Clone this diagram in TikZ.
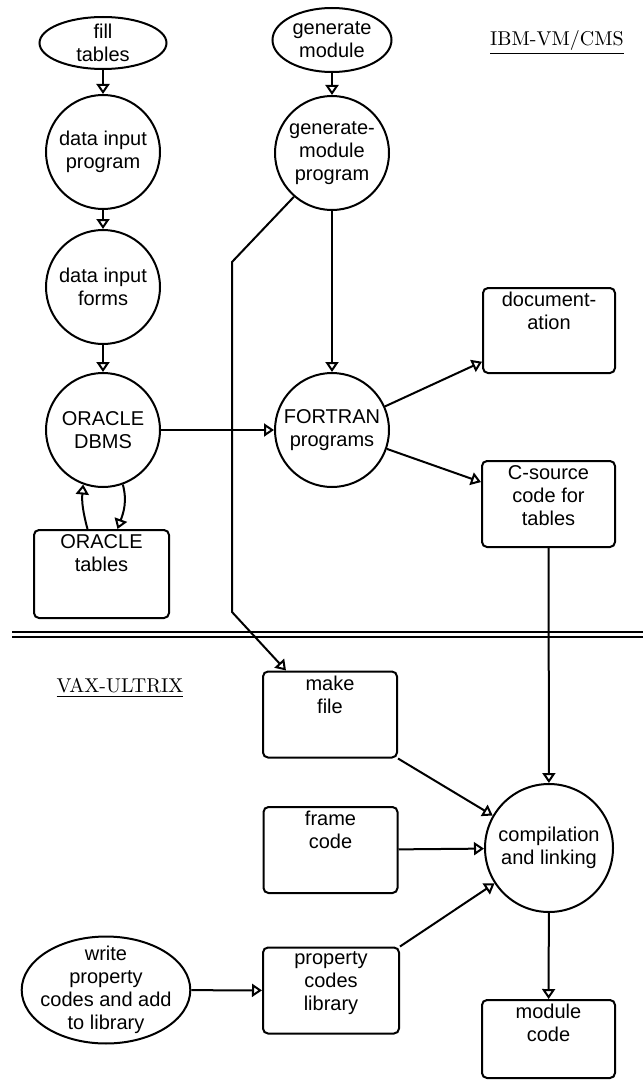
\documentclass[tikz,border=0pt]{standalone}
\usepackage{fontspec}
\newfontfamily\flowfont{Liberation Sans}
\usetikzlibrary{arrows.meta,shapes.geometric}

\tikzset{
  flowtext/.style={align=center, font=\flowfont\fontsize{10}{11.5}\selectfont},
  proc/.style={flowtext, draw, circle, line width=1pt, minimum size=57pt, inner sep=1pt},
  term/.style={flowtext, draw, ellipse, line width=1pt, inner sep=-1pt},
  store/.style={draw, rectangle, rounded corners=2.5pt, line width=1pt,
    minimum width=67pt, minimum height=43pt},
  boxtext/.style={flowtext, anchor=north, inner sep=2.5pt},
  flow/.style={line width=1pt, -{Triangle[open,length=5pt,width=6.5pt]}},
  system/.style={font=\normalsize}
}

\begin{document}
\begin{tikzpicture}[x=0.5pt,y=0.5pt]
  \useasboundingbox (0,0) rectangle (643,-1081);

  % IBM side
  \node[term, minimum width=63.5pt, minimum height=26pt] (filltab) at (103,-43) {fill\\tables};
  \node[proc] (dataprog) at (103,-152) {data input\\program};
  \node[proc] (dataform) at (103,-287) {data input\\forms};
  \node[proc] (dbms) at (103,-430) {ORACLE\\DBMS};
  \node[store, minimum width=67.5pt, minimum height=44pt,
    label={[boxtext]north:ORACLE\\tables}] (otab) at (101.5,-574) {};

  \node[term, minimum width=59.5pt, minimum height=32pt] (genmod) at (332,-40) {generate\\module};
  \node[proc] (genprog) at (332,-153) {generate-\\module\\program};
  \node[proc] (fortran) at (332,-430) {FORTRAN\\programs};

  \node[store, minimum width=66pt, minimum height=42.5pt,
    label={[boxtext]north:document-\\ation}] (docu) at (549,-330.5) {};
  \node[store, minimum width=66.5pt,
    label={[boxtext]north:C-source\\code for\\tables}] (csrc) at (548.5,-504) {};

  \node[system] (ibm) at (557,-43) {\underline{IBM-VM/CMS}};

  % border between the two machines
  \draw[line width=1pt] (12,-632) -- (643,-632);
  \draw[line width=1pt] (12,-637) -- (643,-637);

  % VAX side
  \node[system] (vax) at (120,-688) {\underline{VAX-ULTRIX}};

  \node[store, label={[boxtext]north:make\\file}] (mkfile) at (330,-714.5) {};
  \node[store, label={[boxtext]north:frame\\code}] (frame) at (330.5,-850) {};
  \node[store, minimum width=68pt,
    label={[boxtext]north:property\\codes\\library}] (prop) at (331,-990.5) {};
  \node[term, minimum width=79pt, minimum height=52.5pt, inner sep=-3pt] (write) at (106,-990)
    {write\\property\\codes and add\\to library};

  \node[proc, minimum size=64pt] (compile) at (549,-848) {compilation\\and linking};
  \node[store, minimum width=66.5pt, minimum height=39pt,
    label={[boxtext]north:module\\code}] (modcode) at (548.5,-1039) {};

  % flows
  \draw[flow] (filltab) -- (dataprog);
  \draw[flow] (dataprog) -- (dataform);
  \draw[flow] (dataform) -- (dbms);
  \draw[flow] (dbms) -- (fortran);
  \draw[flow] (dbms.290) to[out=-75,in=70] ([xshift=8pt]otab.north);
  \draw[flow] ([xshift=-7pt]otab.north) to[out=105,in=-95] (dbms.250);

  \draw[flow] (genmod) -- (genprog);
  \draw[flow] (genprog) -- (fortran);
  \draw[flow] (fortran.24) -- (docu.205);
  \draw[flow] (fortran.-19) -- (csrc.162);

  \coordinate (bend1) at (232,-262);
  \coordinate (bend2) at (232,-612);
  \draw[flow] (genprog.229) -- (bend1) -- (bend2) -- ([xshift=12pt]mkfile.north west);

  \draw[flow] (csrc) -- (compile);
  \draw[flow] (mkfile.south east) -- (compile.150);
  \draw[flow] (frame) -- (compile);
  \draw[flow] (prop.north east) -- (compile.213);
  \draw[flow] (write) -- (prop);
  \draw[flow] (compile) -- (modcode);
\end{tikzpicture}
\end{document}
